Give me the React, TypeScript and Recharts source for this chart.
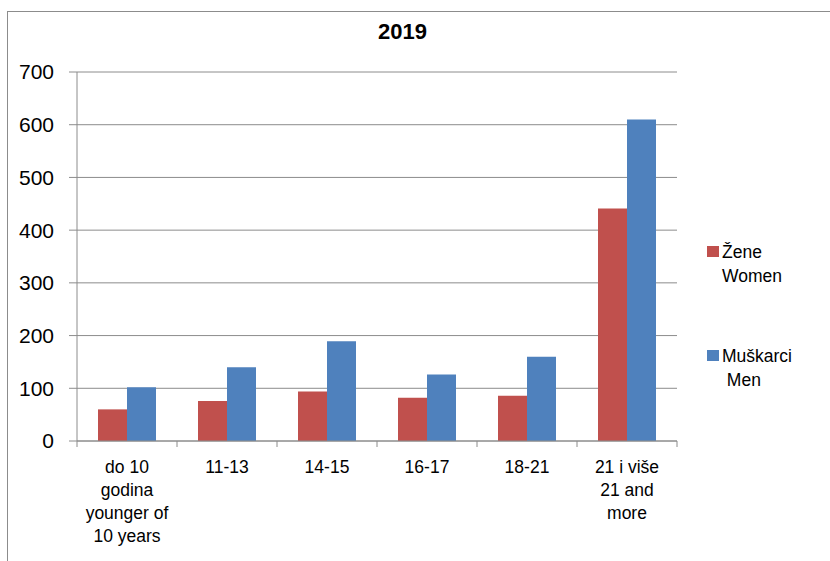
import React from "react";
import { BarChart, Bar, XAxis, YAxis, CartesianGrid, Legend } from "recharts";

const categories = [
  "do 10\ngodina\nyounger of\n10 years",
  "11-13",
  "14-15",
  "16-17",
  "18-21",
  "21 i više\n21 and\nmore",
];
const women = [60, 76, 94, 82, 86, 441];
const men = [102, 140, 189, 126, 160, 610];
const yTicks = [0, 100, 200, 300, 400, 500, 600, 700];
const seriesKeys = ["women", "men"];
const seriesNames = ["Žene", "Muškarci"];
const legendLines = [
  ["Žene", "Women"],
  ["Muškarci", " Men"],
];
const title = "2019";

const RED = "#C0504D";
const BLUE = "#4F81BD";
const AXIS = "#8c8c8c";
const FONT = "'Liberation Sans', Arial, sans-serif";

const data = categories.map((c, i) => ({ cat: c, women: women[i], men: men[i] }));

const CategoryTick = (props: any) => {
  const { x, y, payload, index, visibleTicksCount, width } = props;
  const band = width && visibleTicksCount ? width / visibleTicksCount : 100;
  const lines = String(payload.value).split("\n");
  const left = x - band / 2;
  const right = x + band / 2;
  return (
    <g>
      <line x1={left} y1={y} x2={left} y2={y + 6} stroke={AXIS} />
      {index === visibleTicksCount - 1 && (
        <line x1={right} y1={y} x2={right} y2={y + 6} stroke={AXIS} />
      )}
      <text x={x} y={y + 32} textAnchor="middle" fontSize={17.5} fill="#000" fontFamily={FONT}>
        {lines.map((l, i) => (
          <tspan key={i} x={x} dy={i === 0 ? 0 : 23}>
            {l}
          </tspan>
        ))}
      </text>
    </g>
  );
};

const LegendContent = (props: any) => {
  const payload = props.payload || [];
  return (
    <div style={{ position: "relative", fontFamily: FONT, fontSize: 17.5, color: "#000" }}>
      {seriesKeys.map((key, i) => {
        const p = payload.find((q: any) => q.dataKey === key);
        const color = p ? p.color : i === 0 ? RED : BLUE;
        return (
          <div
            key={key}
            style={{
              position: "absolute",
              left: 0,
              top: i * 104,
              display: "flex",
              alignItems: "flex-start",
              lineHeight: "24px",
              whiteSpace: "pre",
            }}
          >
            <div style={{ width: 12, height: 11, background: color, marginTop: 6.5, marginRight: 3 }} />
            <div>
              {legendLines[i].map((l, j) => (
                <div key={j}>{l}</div>
              ))}
            </div>
          </div>
        );
      })}
    </div>
  );
};

export default function App() {
  return (
    <div
      style={{
        position: "absolute",
        left: 0,
        top: 0,
        width: 830,
        height: 561,
        overflow: "hidden",
        background: "#fff",
      }}
    >
      <div
        style={{
          position: "absolute",
          left: 7,
          top: 11,
          width: 900,
          height: 700,
          border: `1px solid ${AXIS}`,
        }}
      />
      <div
        style={{
          position: "absolute",
          left: 0,
          top: 20.7,
          width: 805,
          textAlign: "center",
          fontFamily: "'Liberation Sans Narrow', 'Liberation Sans', Arial, sans-serif",
          fontWeight: "bold",
          fontSize: 22,
          lineHeight: "22px",
          color: "#000",
        }}
      >
        {title}
      </div>
      <div style={{ position: "absolute", left: 0, top: 0 }}>
        <BarChart
          width={830}
          height={561}
          data={data}
          margin={{ top: 72, right: 153, bottom: 20, left: 17 }}
          barCategoryGap="21%"
          barGap={0}
        >
          <CartesianGrid horizontal={true} vertical={false} stroke={AXIS} strokeWidth={1} />
          <XAxis
            dataKey="cat"
            interval={0}
            height={100}
            axisLine={{ stroke: AXIS }}
            tickLine={false}
            tickSize={0}
            tickMargin={0}
            tick={<CategoryTick />}
          />
          <YAxis
            width={60}
            domain={[0, 700]}
            ticks={yTicks}
            interval={0}
            axisLine={{ stroke: AXIS }}
            tickLine={{ stroke: AXIS }}
            tickSize={8}
            tickMargin={15}
            tick={{ fontSize: 21, fill: "#000", fontFamily: FONT }}
          />
          <Legend
            layout="vertical"
            align="center"
            verticalAlign="middle"
            wrapperStyle={{ left: 707, top: 239.6, width: 120, height: 150 }}
            content={<LegendContent />}
          />
          <Bar dataKey="women" name={seriesNames[0]} fill={RED} isAnimationActive={false} />
          <Bar dataKey="men" name={seriesNames[1]} fill={BLUE} isAnimationActive={false} />
        </BarChart>
      </div>
    </div>
  );
}
